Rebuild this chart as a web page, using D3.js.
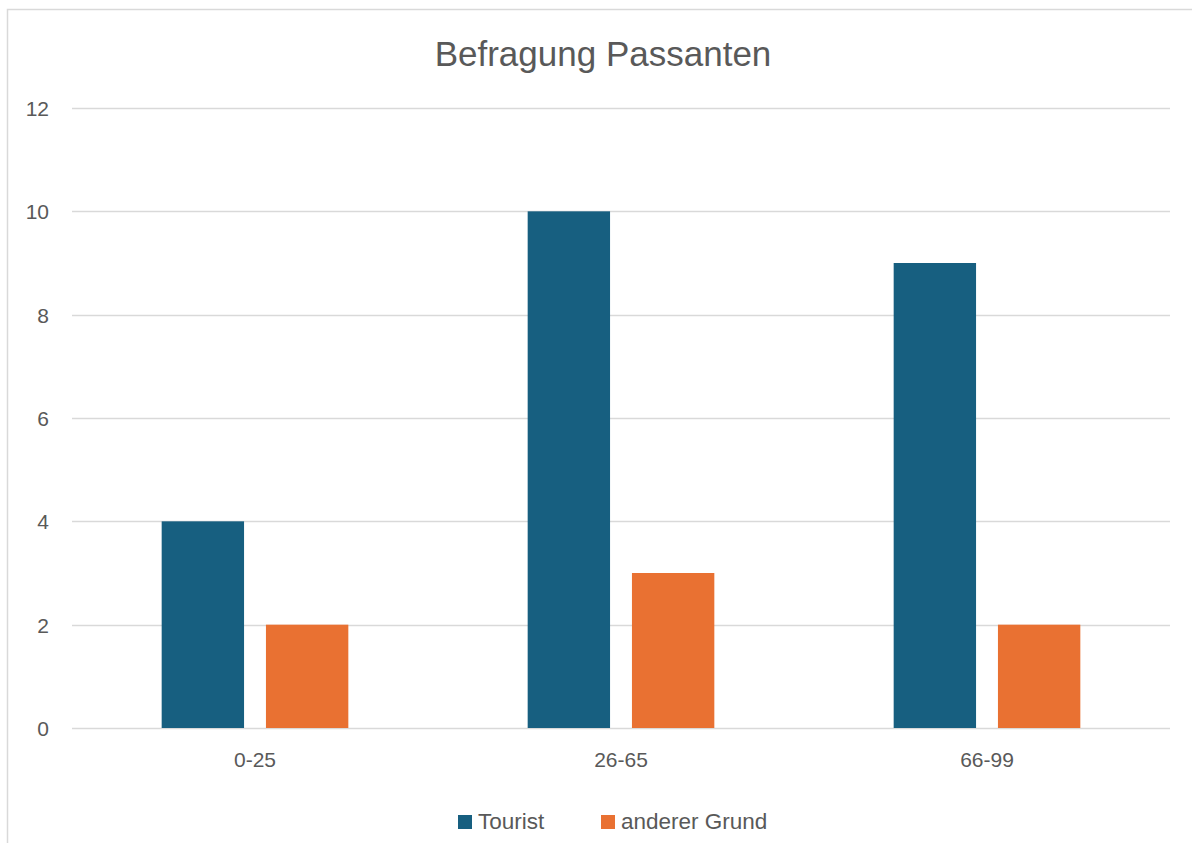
<!DOCTYPE html>
<html>
<head>
<meta charset="utf-8">
<script src="https://cdn.jsdelivr.net/npm/d3@7"></script>
<style>
  html, body { margin: 0; padding: 0; background: #fff; }
  svg { display: block; }
  text { font-family: "Liberation Sans", Arial, sans-serif; fill: #595959; }
</style>
</head>
<body>
<svg id="chart" width="1192" height="843"></svg>
<script>
// Survey of passers-by, counted per age group
const categories = ["0-25", "26-65", "66-99"];
const seriesNames = ["Tourist", "anderer Grund"];
const touristValues = [4, 10, 9];
const otherValues = [2, 3, 2];
const yTicks = [0, 2, 4, 6, 8, 10, 12];
const colors = ["#175F80", "#E97132"];

const svg = d3.select("#chart");
const FONT = "'Liberation Sans', Arial, sans-serif";

// outer chart frame (runs off the right and bottom edge)
svg.append("rect")
  .attr("x", 7.5).attr("y", 9.5)
  .attr("width", 1200).attr("height", 900)
  .attr("fill", "#fff")
  .attr("stroke", "#d9d9d9").attr("stroke-width", 1.5);

const plot = { left: 72, right: 1170, top: 108, bottom: 728 };

const y = d3.scaleLinear().domain([0, 12]).range([plot.bottom, plot.top]);
const x0 = d3.scaleBand().domain(categories).range([plot.left, plot.right])
  .paddingInner(0.49).paddingOuter(0.245);
const x1 = d3.scaleBand().domain(seriesNames).range([0, x0.bandwidth()]).paddingInner(0.21);

// horizontal gridlines
svg.append("g")
  .selectAll("line").data(yTicks).join("line")
  .attr("x1", plot.left).attr("x2", plot.right)
  .attr("y1", d => Math.round(y(d)) + 0.5).attr("y2", d => Math.round(y(d)) + 0.5)
  .attr("stroke", "#d9d9d9").attr("stroke-width", 1.5);

// y axis labels
const yAxis = d3.axisLeft(y).tickValues(yTicks).tickSize(0).tickPadding(0);
const gy = svg.append("g").attr("transform", `translate(49,0)`).call(yAxis);
gy.select(".domain").remove();
gy.selectAll("text").attr("font-size", 21).attr("fill", "#595959")
  .style("font-family", FONT).attr("dy", "0.35em");

// bars
const rows = categories.map((c, i) => ({ cat: c, vals: [touristValues[i], otherValues[i]] }));
const groups = svg.append("g").selectAll("g").data(rows).join("g")
  .attr("transform", d => `translate(${x0(d.cat)},0)`);
groups.selectAll("rect")
  .data(d => d.vals.map((v, k) => ({ name: seriesNames[k], v, k })))
  .join("rect")
  .attr("x", d => x1(d.name))
  .attr("y", d => y(d.v))
  .attr("width", x1.bandwidth())
  .attr("height", d => y(0) - y(d.v))
  .attr("fill", d => colors[d.k]);

// category axis labels
const xAxis = d3.axisBottom(x0).tickSize(0).tickPadding(0);
const gx = svg.append("g").attr("transform", `translate(0,${plot.bottom})`).call(xAxis);
gx.select(".domain").remove();
gx.selectAll("text").attr("font-size", 21).attr("fill", "#595959")
  .style("font-family", FONT)
  .attr("y", 39).attr("dy", 0);

// title
svg.append("text")
  .attr("x", 603).attr("y", 66)
  .attr("text-anchor", "middle")
  .attr("font-size", 35)
  .text("Befragung Passanten");

// legend
const legendItems = [
  { name: seriesNames[0], color: colors[0], x: 458 },
  { name: seriesNames[1], color: colors[1], x: 601 }
];
const lg = svg.append("g").selectAll("g").data(legendItems).join("g")
  .attr("transform", d => `translate(${d.x},815)`);
lg.append("rect").attr("width", 14).attr("height", 14).attr("fill", d => d.color);
lg.append("text").attr("x", 20).attr("y", 14).attr("font-size", 22.5).text(d => d.name);
</script>
</body>
</html>
